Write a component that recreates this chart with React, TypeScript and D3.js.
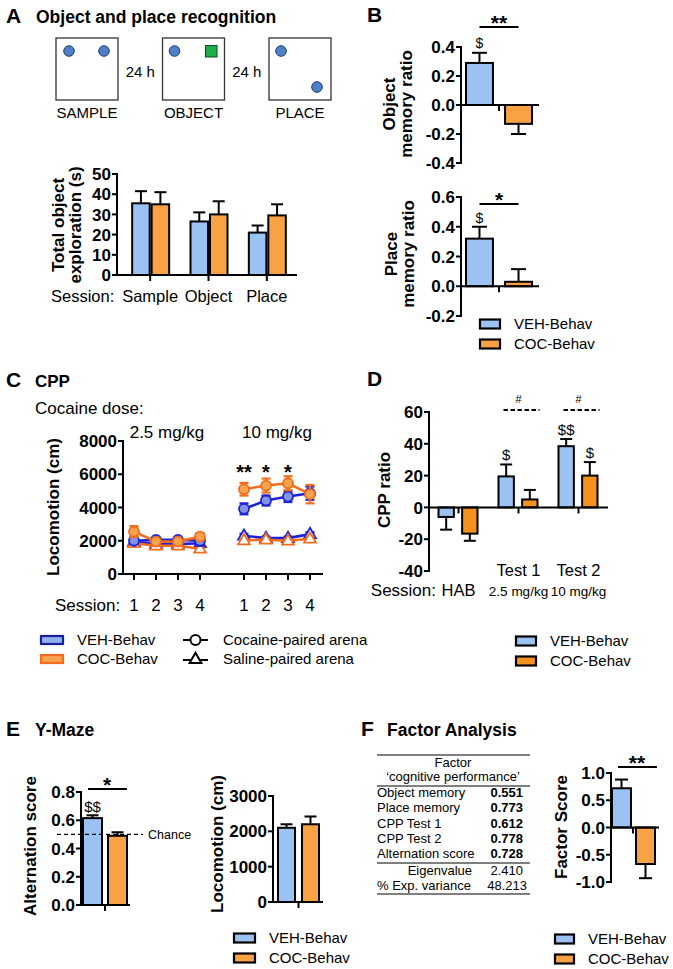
import React from 'react';
import * as d3 from 'd3';

const FONT = '"Liberation Sans", Arial, Helvetica, sans-serif';
const BLUE = '#9ac3f3';
const ORANGE = '#f8a244';
const ORANGE_D = '#f5921f';
const LINE_BLUE = '#1f22d4';
const LINE_ORANGE = '#f26c1f';
const PT_BLUE = '#8095ea';
const PT_ORANGE = '#f7a24c';

// ---------- Panel A data ----------
const sessionsA = ['Sample', 'Object', 'Place'];
const vehA = [35.5, 26.5, 21];
const vehAErr = [6, 4.5, 3.5];
const cocA = [35, 30, 29.5];
const cocAErr = [6, 6.5, 5.5];
const ticksA = [0, 10, 20, 30, 40, 50];
const schematicLabels = ['SAMPLE', 'OBJECT', 'PLACE'];

// ---------- Panel B data ----------
const objVeh = [0.29];
const objVehErr = [0.07];
const objCoc = [-0.13];
const objCocErr = [0.07];
const ticksB1 = [-0.4, -0.2, 0, 0.2, 0.4];
const placeVeh = [0.32];
const placeVehErr = [0.08];
const placeCoc = [0.03];
const placeCocErr = [0.085];
const ticksB2 = [-0.2, 0, 0.2, 0.4, 0.6];

// ---------- Panel C data (4 sessions at 2.5 mg/kg, then 4 at 10 mg/kg) ----------
const sessionLabelsC = ['1', '2', '3', '4'];
const dosesC = ['2.5 mg/kg', '10 mg/kg'];
const vehCocaine = [2000, 2050, 2050, 2000, 3920, 4420, 4660, 4860];
const vehCocaineErr = [200, 120, 120, 300, 330, 300, 330, 400];
const cocCocaine = [2550, 1950, 1950, 2250, 5100, 5320, 5460, 4800];
const cocCocaineErr = [330, 130, 130, 200, 380, 420, 420, 550];
const vehSaline = [1950, 1800, 1800, 1850, 2300, 2160, 2160, 2400];
const vehSalineErr = [120, 90, 90, 100, 120, 90, 90, 120];
const cocSaline = [1850, 1700, 1700, 1520, 2020, 2060, 2000, 2120];
const cocSalineErr = [120, 90, 90, 100, 90, 90, 90, 120];
const ticksC = [0, 2000, 4000, 6000, 8000];
const starsC = ['**', '*', '*'];

// ---------- Panel D data ----------
const sessionsD = ['HAB', 'Test 1', 'Test 2'];
const dosesD = ['', '2.5 mg/kg', '10 mg/kg'];
const vehD = [-6, 19.5, 38.5];
const vehDErr = [8, 7.5, 4.5];
const cocD = [-16.5, 5, 20];
const cocDErr = [4.5, 6, 8.5];
const ticksD = [-40, -20, 0, 20, 40, 60];

// ---------- Panel E data ----------
const altVeh = [0.615];
const altVehErr = [0.02];
const altCoc = [0.49];
const altCocErr = [0.025];
const chanceLevel = 0.5;
const ticksE1 = [0, 0.2, 0.4, 0.6, 0.8];
const locoVeh = [2100];
const locoVehErr = [100];
const locoCoc = [2200];
const locoCocErr = [220];
const ticksE2 = [0, 1000, 2000, 3000];

// ---------- Panel F data ----------
const factorRows = ['Object memory', 'Place memory', 'CPP Test 1', 'CPP Test 2', 'Alternation score'];
const factorLoadings = ['0.551', '0.773', '0.612', '0.778', '0.728'];
const eigenvalue = '2.410';
const expVariance = '48.213';
const fVeh = [0.72];
const fVehErr = [0.16];
const fCoc = [-0.67];
const fCocErr = [0.26];
const ticksF = [-1, -0.5, 0, 0.5, 1];

const fmt0 = (v: number) => String(v);
const fmt1 = (v: number) => v.toFixed(1);

function YAxis({ x, y, ticks, fmt, fs = 17 }: any) {
  const d = y.domain();
  return (
    <g>
      <line x1={x} x2={x} y1={y(d[0])} y2={y(d[1])} stroke="#000" strokeWidth={2} strokeLinecap="square" />
      {ticks.map((t: number) => (
        <g key={t}>
          <line x1={x - 5} x2={x} y1={y(t)} y2={y(t)} stroke="#000" strokeWidth={2} />
          <text x={x - 6} y={y(t)} dy="0.36em" textAnchor="end" fontWeight="bold" fontSize={fs}>
            {fmt(t)}
          </text>
        </g>
      ))}
    </g>
  );
}

function VLabel({ cy, lines, fs = 17 }: any) {
  return (
    <g>
      {lines.map((l: any, i: number) => (
        <text
          key={i}
          transform={`translate(${l.x},${cy}) rotate(-90)`}
          textAnchor="middle"
          dy="0.36em"
          fontWeight="bold"
          fontSize={fs}
        >
          {l.t}
        </text>
      ))}
    </g>
  );
}

function makeBarScales(cats: string[], band: [number, number], sub: [number, number], subPad: number) {
  const x = d3.scaleBand<string>().domain(cats).range(band);
  const xs = d3.scaleBand<string>().domain(['veh', 'coc']).range(sub).paddingInner(subPad);
  const center = (c: string) => (x(c) as number) + x.bandwidth() / 2;
  const barLeft = (c: string, s: string) => center(c) + (xs(s) as number);
  const barMid = (c: string, s: string) => barLeft(c, s) + xs.bandwidth() / 2;
  return { x, xs, center, barLeft, barMid, bw: xs.bandwidth() };
}

function GroupBars({ cats, veh, vehErr, coc, cocErr, y, sc, axisX, axisEnd, cap, cocFill = ORANGE, tickLen = 6 }: any) {
  const y0 = y(0);
  const series = [
    { key: 'veh', vals: veh, errs: vehErr, fill: BLUE },
    { key: 'coc', vals: coc, errs: cocErr, fill: cocFill },
  ];
  return (
    <g>
      {series.map((s) =>
        s.vals.map((v: number, i: number) => {
          const c = cats[i];
          const left = sc.barLeft(c, s.key);
          const mid = sc.barMid(c, s.key);
          const top = y(v);
          const ye = y(v >= 0 ? v + s.errs[i] : v - s.errs[i]);
          return (
            <g key={s.key + i}>
              <line x1={mid} x2={mid} y1={top} y2={ye} stroke="#000" strokeWidth={2} />
              <line x1={mid - cap / 2} x2={mid + cap / 2} y1={ye} y2={ye} stroke="#000" strokeWidth={2} />
              <rect
                x={left}
                y={Math.min(top, y0)}
                width={sc.bw}
                height={Math.abs(y0 - top)}
                fill={s.fill}
                stroke="#000"
                strokeWidth={2}
              />
            </g>
          );
        })
      )}
      <line x1={axisX} x2={axisEnd} y1={y0} y2={y0} stroke="#000" strokeWidth={2} />
      {cats.map((c: string) => (
        <line key={c} x1={sc.center(c)} x2={sc.center(c)} y1={y0} y2={y0 + tickLen} stroke="#000" strokeWidth={2} />
      ))}
    </g>
  );
}

function BarLegend({ x, y, w = 20, h = 9, fs = 15, gap = 20, items }: any) {
  return (
    <g>
      {items.map((it: any, i: number) => (
        <g key={i}>
          <rect x={x} y={y + i * gap - h / 2} width={w} height={h} fill={it.fill} stroke={it.stroke || '#000'} strokeWidth={2.2} />
          <text x={x + w + 14} y={y + i * gap} dy="0.36em" fontSize={fs}>
            {it.label}
          </text>
        </g>
      ))}
    </g>
  );
}

function errTopY(y: any, v: number, e: number) {
  return y(v >= 0 ? v + e : v - e);
}

function PanelA() {
  const y = d3.scaleLinear().domain([0, 50]).range([275, 174]);
  const sc = makeBarScales(sessionsA, [121, 296], [-18, 19], 0.1);
  const boxX = d3.scaleBand<string>().domain(schematicLabels).range([56, 331]).paddingInner(0.418);
  const bs = boxX.bandwidth();
  const bx = (l: string) => boxX(l) as number;
  const dot = (cx: number, cy: number) => <circle cx={cx} cy={cy} r={5.3} fill="#4f7fc6" stroke="#1d3c70" strokeWidth={1} />;
  return (
    <g>
      <text x={6} y={23} fontWeight="bold" fontSize={21}>A</text>
      <text x={36} y={23} fontWeight="bold" fontSize={17.5}>Object and place recognition</text>
      {schematicLabels.map((l) => (
        <g key={l}>
          <rect x={bx(l)} y={38} width={bs} height={bs} fill="#fff" stroke="#333" strokeWidth={1.3} />
          <text x={bx(l) + bs / 2} y={118} textAnchor="middle" fontSize={15}>{l}</text>
        </g>
      ))}
      {[0, 1].map((i) => (
        <text key={i} x={(bx(schematicLabels[i]) + bs + bx(schematicLabels[i + 1])) / 2} y={77} textAnchor="middle" fontSize={15}>
          24 h
        </text>
      ))}
      {dot(bx('SAMPLE') + 13, 51)}
      {dot(bx('SAMPLE') + 48, 51)}
      {dot(bx('OBJECT') + 12, 51)}
      <rect x={bx('OBJECT') + 43} y={45.5} width={11.5} height={11.5} fill="#1fae4b" stroke="#0d4a20" strokeWidth={1} />
      {dot(bx('PLACE') + 12, 51)}
      {dot(bx('PLACE') + 48, 87)}

      <GroupBars cats={sessionsA} veh={vehA} vehErr={vehAErr} coc={cocA} cocErr={cocAErr} y={y} sc={sc} axisX={117} axisEnd={297} cap={12} />
      <YAxis x={117} y={y} ticks={ticksA} fmt={fmt0} />
      <VLabel cy={225} lines={[{ x: 58, t: 'Total object' }, { x: 75, t: 'exploration (s)' }]} />
      <text x={51} y={302} fontSize={16.5}>Session:</text>
      {sessionsA.map((c) => (
        <text key={c} x={sc.center(c)} y={302} textAnchor="middle" fontSize={16.5}>{c}</text>
      ))}
    </g>
  );
}

function PanelB() {
  const y1 = d3.scaleLinear().domain([-0.4, 0.4]).range([163, 47]);
  const y2 = d3.scaleLinear().domain([-0.2, 0.6]).range([316, 197]);
  const cats = [''];
  const sc = makeBarScales(cats, [460, 538], [-33, 33], 0.31);
  return (
    <g>
      <text x={367} y={22} fontWeight="bold" fontSize={21}>B</text>
      <GroupBars cats={cats} veh={objVeh} vehErr={objVehErr} coc={objCoc} cocErr={objCocErr} y={y1} sc={sc} axisX={461} axisEnd={539} cap={15} />
      <YAxis x={461} y={y1} ticks={ticksB1} fmt={fmt1} />
      <VLabel cy={104} lines={[{ x: 389, t: 'Object' }, { x: 406, t: 'memory ratio' }]} />
      <text x={sc.barMid('', 'veh')} y={errTopY(y1, objVeh[0], objVehErr[0]) - 5} textAnchor="middle" fontSize={14}>$</text>
      <line x1={sc.barMid('', 'veh')} x2={sc.barMid('', 'coc')} y1={27} y2={27} stroke="#000" strokeWidth={2} />
      <text x={(sc.barMid('', 'veh') + sc.barMid('', 'coc')) / 2} y={30} textAnchor="middle" fontSize={21} fontWeight="bold">**</text>

      <GroupBars cats={cats} veh={placeVeh} vehErr={placeVehErr} coc={placeCoc} cocErr={placeCocErr} y={y2} sc={sc} axisX={461} axisEnd={539} cap={15} />
      <YAxis x={461} y={y2} ticks={ticksB2} fmt={fmt1} />
      <VLabel cy={254} lines={[{ x: 391, t: 'Place' }, { x: 408, t: 'memory ratio' }]} />
      <text x={sc.barMid('', 'veh')} y={errTopY(y2, placeVeh[0], placeVehErr[0]) - 4} textAnchor="middle" fontSize={14}>$</text>
      <line x1={sc.barMid('', 'veh')} x2={sc.barMid('', 'coc')} y1={204} y2={204} stroke="#000" strokeWidth={2} />
      <text x={(sc.barMid('', 'veh') + sc.barMid('', 'coc')) / 2} y={207} textAnchor="middle" fontSize={21} fontWeight="bold">*</text>

      <BarLegend x={480} y={324} items={[{ fill: BLUE, label: 'VEH-Behav' }, { fill: ORANGE, label: 'COC-Behav' }]} />
    </g>
  );
}

function PanelC() {
  const y = d3.scaleLinear().domain([0, 8000]).range([574, 441]);
  const slot = d3.scaleLinear().domain([0, 8]).range([134, 310]);
  const xi = (i: number) => slot(Math.floor(i / 4) * 5 + (i % 4));
  const series = [
    { vals: vehSaline, errs: vehSalineErr, color: LINE_BLUE, fill: '#fff', tri: true },
    { vals: cocSaline, errs: cocSalineErr, color: LINE_ORANGE, fill: '#fff', tri: true },
    { vals: vehCocaine, errs: vehCocaineErr, color: LINE_BLUE, fill: PT_BLUE, tri: false },
    { vals: cocCocaine, errs: cocCocaineErr, color: LINE_ORANGE, fill: PT_ORANGE, tri: false },
  ];
  const tri = d3.symbol().type(d3.symbolTriangle).size(60)() as string;
  const path = d3
    .line<[number, number]>()
    .x((d) => d[0])
    .y((d) => d[1]);
  return (
    <g>
      <text x={6} y={387} fontWeight="bold" fontSize={21}>C</text>
      <text x={35} y={387} fontWeight="bold" fontSize={17}>CPP</text>
      <text x={35} y={414} fontSize={17}>Cocaine dose:</text>
      {dosesC.map((d, k) => (
        <text key={d} x={(xi(k * 4) + xi(k * 4 + 3)) / 2} y={438} textAnchor="middle" fontSize={17}>{d}</text>
      ))}
      {series.map((s, si) => (
        <g key={si}>
          {[0, 1].map((g) => (
            <path
              key={g}
              d={path(s.vals.slice(g * 4, g * 4 + 4).map((v, k) => [xi(g * 4 + k), y(v)]) as any) as string}
              fill="none"
              stroke={s.color}
              strokeWidth={2.6}
            />
          ))}
          {s.vals.map((v, i) => (
            <g key={i}>
              <line x1={xi(i)} x2={xi(i)} y1={y(v - s.errs[i])} y2={y(v + s.errs[i])} stroke={s.color} strokeWidth={2.2} />
              <line x1={xi(i) - 4.5} x2={xi(i) + 4.5} y1={y(v - s.errs[i])} y2={y(v - s.errs[i])} stroke={s.color} strokeWidth={2.2} />
              <line x1={xi(i) - 4.5} x2={xi(i) + 4.5} y1={y(v + s.errs[i])} y2={y(v + s.errs[i])} stroke={s.color} strokeWidth={2.2} />
              {s.tri ? (
                <path d={tri} transform={`translate(${xi(i)},${y(v) + 0.5})`} fill="#fff" stroke={s.color} strokeWidth={1.8} />
              ) : (
                <circle cx={xi(i)} cy={y(v)} r={5} fill={s.fill} stroke={s.color} strokeWidth={1.8} />
              )}
            </g>
          ))}
        </g>
      ))}
      {starsC.map((st, k) => (
        <text key={k} x={xi(4 + k)} y={479} textAnchor="middle" fontSize={20} fontWeight="bold">{st}</text>
      ))}
      <line x1={123} x2={323} y1={574} y2={574} stroke="#000" strokeWidth={2} />
      {d3.range(8).map((i) => (
        <g key={i}>
          <line x1={xi(i)} x2={xi(i)} y1={574} y2={580} stroke="#000" strokeWidth={2} />
          <text x={xi(i)} y={611} textAnchor="middle" fontSize={17}>{sessionLabelsC[i % 4]}</text>
        </g>
      ))}
      <text x={55} y={611} fontSize={17}>Session:</text>
      <YAxis x={123} y={y} ticks={ticksC} fmt={fmt0} />
      <VLabel cy={507} lines={[{ x: 53, t: 'Locomotion (cm)' }]} />

      <BarLegend
        x={41}
        y={640}
        w={22}
        h={8}
        gap={19}
        items={[
          { fill: '#8db0f0', stroke: '#1a1d9a', label: 'VEH-Behav' },
          { fill: '#f9a24e', stroke: LINE_ORANGE, label: 'COC-Behav' },
        ]}
      />
      <line x1={183} x2={208} y1={640} y2={640} stroke="#000" strokeWidth={2} />
      <circle cx={195.5} cy={640} r={5} fill="#fff" stroke="#000" strokeWidth={2} />
      <line x1={183} x2={208} y1={660} y2={660} stroke="#000" strokeWidth={2} />
      <path d={tri} transform={`translate(195.5,659.5)`} fill="#fff" stroke="#000" strokeWidth={2} />
      <text x={223} y={640} dy="0.36em" fontSize={15}>Cocaine-paired arena</text>
      <text x={223} y={659} dy="0.36em" fontSize={15}>Saline-paired arena</text>
    </g>
  );
}

function PanelD() {
  const y = d3.scaleLinear().domain([-40, 60]).range([571, 412]);
  const sc = makeBarScales(sessionsD, [428.5, 608.5], [-20, 19], 0.35);
  const dollar = (c: string, s: string, v: number, e: number, t: string) => (
    <text x={sc.barMid(c, s)} y={errTopY(y, v, e) - 4} textAnchor="middle" fontSize={15}>{t}</text>
  );
  return (
    <g>
      <text x={367} y={386} fontWeight="bold" fontSize={21}>D</text>
      <GroupBars cats={sessionsD} veh={vehD} vehErr={vehDErr} coc={cocD} cocErr={cocDErr} y={y} sc={sc} axisX={429} axisEnd={608} cap={12} cocFill={ORANGE_D} />
      <YAxis x={429} y={y} ticks={ticksD} fmt={fmt0} />
      <VLabel cy={490} lines={[{ x: 384, t: 'CPP ratio' }]} />
      {dollar('Test 1', 'veh', vehD[1], vehDErr[1], '$')}
      {dollar('Test 2', 'veh', vehD[2], vehDErr[2], '$$')}
      {dollar('Test 2', 'coc', cocD[2], cocDErr[2], '$')}
      {['Test 1', 'Test 2'].map((c) => (
        <g key={c}>
          <line x1={sc.center(c) - 15} x2={sc.center(c) + 21} y1={410} y2={410} stroke="#000" strokeWidth={2} strokeDasharray="4.5,2.5" />
          <text x={sc.center(c)} y={403} textAnchor="middle" fontSize={11}>#</text>
        </g>
      ))}
      {sessionsD.map((c, i) =>
        i === 0 ? null : (
          <text key={c} x={sc.center(c)} y={576} textAnchor="middle" fontSize={16.5}>{c}</text>
        )
      )}
      <text x={436} y={596} textAnchor="end" fontSize={17}>Session:</text>
      <text x={sc.center('HAB')} y={596} textAnchor="middle" fontSize={16.5}>HAB</text>
      {dosesD.map((d, i) =>
        d ? (
          <text key={i} x={sc.center(sessionsD[i])} y={596} textAnchor="middle" fontSize={13.5}>{d}</text>
        ) : null
      )}
      <BarLegend x={516} y={641} items={[{ fill: BLUE, label: 'VEH-Behav' }, { fill: ORANGE_D, label: 'COC-Behav' }]} />
    </g>
  );
}

function PanelE() {
  const y1 = d3.scaleLinear().domain([0, 0.8]).range([905, 792]);
  const y2 = d3.scaleLinear().domain([0, 3000]).range([902, 796]);
  const cats = [''];
  const sc1 = makeBarScales(cats, [84, 126], [-22, 22], 0.24);
  const sc2 = makeBarScales(cats, [277, 320], [-20.5, 20.5], 0.29);
  return (
    <g>
      <text x={6} y={736} fontWeight="bold" fontSize={21}>E</text>
      <text x={35} y={736} fontWeight="bold" fontSize={17.5}>Y-Maze</text>
      <GroupBars cats={cats} veh={altVeh} vehErr={altVehErr} coc={altCoc} cocErr={altCocErr} y={y1} sc={sc1} axisX={81} axisEnd={130} cap={12} />
      <line x1={57} x2={143} y1={y1(chanceLevel)} y2={y1(chanceLevel)} stroke="#000" strokeWidth={1.3} strokeDasharray="4,3" />
      <text x={148} y={y1(chanceLevel)} dy="0.36em" fontSize={12.5}>Chance</text>
      <YAxis x={81} y={y1} ticks={ticksE1} fmt={fmt1} />
      <VLabel cy={846} lines={[{ x: 30, t: 'Alternation score' }]} />
      <text x={sc1.barMid('', 'veh')} y={errTopY(y1, altVeh[0], altVehErr[0]) - 3} textAnchor="middle" fontSize={15}>$$</text>
      <line x1={88} x2={127} y1={789} y2={789} stroke="#000" strokeWidth={2} />
      <text x={107} y={792} textAnchor="middle" fontSize={21} fontWeight="bold">*</text>

      <GroupBars cats={cats} veh={locoVeh} vehErr={locoVehErr} coc={locoCoc} cocErr={locoCocErr} y={y2} sc={sc2} axisX={273} axisEnd={323} cap={12} />
      <YAxis x={273} y={y2} ticks={ticksE2} fmt={fmt0} />
      <VLabel cy={844} lines={[{ x: 217, t: 'Locomotion (cm)' }]} />
      <BarLegend x={234} y={938} w={21} items={[{ fill: BLUE, label: 'VEH-Behav' }, { fill: ORANGE, label: 'COC-Behav' }]} />
    </g>
  );
}

function PanelF() {
  const y = d3.scaleLinear().domain([-1, 1]).range([882, 773]);
  const cats = [''];
  const sc = makeBarScales(cats, [612, 654], [-21, 22], 0.21);
  const rowY = d3.scaleLinear().domain([0, 1]).range([797, 812.3]);
  const L = 377;
  const R = 523;
  return (
    <g>
      <text x={361} y={736} fontWeight="bold" fontSize={21}>F</text>
      <text x={387} y={736} fontWeight="bold" fontSize={17.5}>Factor Analysis</text>
      <line x1={L} x2={530} y1={755} y2={755} stroke="#000" strokeWidth={1} />
      <text x={453} y={767} textAnchor="middle" fontSize={13}>Factor</text>
      <text x={453} y={781} textAnchor="middle" fontSize={13}>‘cognitive performance’</text>
      <line x1={L} x2={530} y1={786} y2={786} stroke="#000" strokeWidth={1} />
      {factorRows.map((r, i) => (
        <g key={r}>
          <text x={L} y={rowY(i)} fontSize={13}>{r}</text>
          <text x={R} y={rowY(i)} textAnchor="end" fontSize={13} fontWeight="bold">{factorLoadings[i]}</text>
        </g>
      ))}
      <line x1={L} x2={530} y1={863} y2={863} stroke="#000" strokeWidth={1} />
      <text x={472} y={875} textAnchor="end" fontSize={13}>Eigenvalue</text>
      <text x={R} y={875} textAnchor="end" fontSize={13}>{eigenvalue}</text>
      <text x={L} y={890} fontSize={13}>% Exp. variance</text>
      <text x={527} y={890} textAnchor="end" fontSize={13}>{expVariance}</text>
      <line x1={L} x2={530} y1={894} y2={894} stroke="#000" strokeWidth={1} />

      <GroupBars cats={cats} veh={fVeh} vehErr={fVehErr} coc={fCoc} cocErr={fCocErr} y={y} sc={sc} axisX={611} axisEnd={659} cap={13} />
      <YAxis x={611} y={y} ticks={ticksF} fmt={fmt1} />
      <VLabel cy={827} lines={[{ x: 561, t: 'Factor Score' }]} />
      <line x1={618} x2={657} y1={767} y2={767} stroke="#000" strokeWidth={2} />
      <text x={637} y={770} textAnchor="middle" fontSize={21} fontWeight="bold">**</text>
      <BarLegend x={555} y={939} w={19} items={[{ fill: BLUE, label: 'VEH-Behav' }, { fill: ORANGE, label: 'COC-Behav' }]} />
    </g>
  );
}

export default function App() {
  return (
    <svg
      width={673}
      height={969}
      viewBox="0 0 673 969"
      style={{ position: 'absolute', left: 0, top: 0, background: '#fff' }}
      fontFamily={FONT}
    >
      <rect width={673} height={969} fill="#fff" />
      <PanelA />
      <PanelB />
      <PanelC />
      <PanelD />
      <PanelE />
      <PanelF />
    </svg>
  );
}
